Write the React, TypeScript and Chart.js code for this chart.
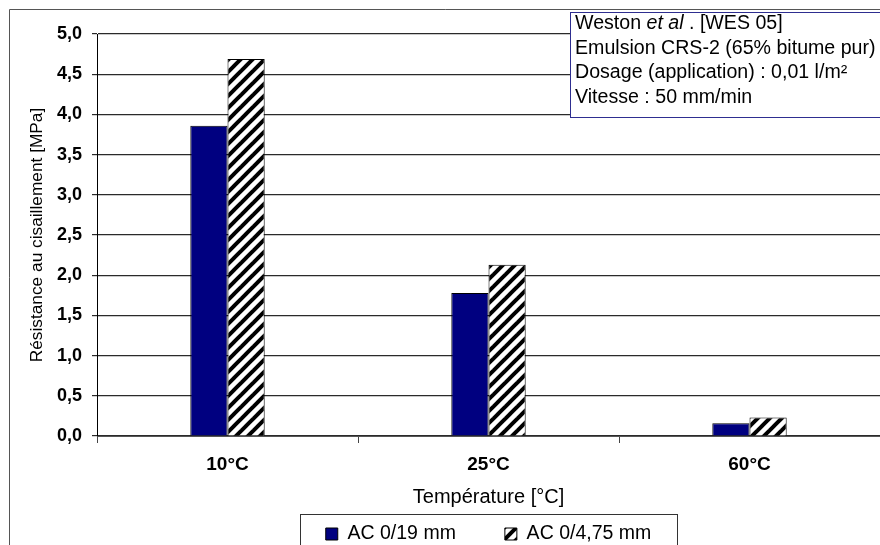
import React, { useEffect, useRef } from 'react';
import { Chart, registerables } from 'chart.js';

Chart.register(...registerables);

// ---- Data ----
const categories = ['10°C', '25°C', '60°C'];
const seriesNames = ['AC 0/19 mm', 'AC 0/4,75 mm'];
const valuesAC019 = [3.86, 1.78, 0.16];
const valuesAC0475 = [4.69, 2.13, 0.23];
const yMin = 0;
const yMax = 5;
const yStep = 0.5;
const xTitle = 'Température [°C]';
const yTitle = 'Résistance au cisaillement [MPa]';
const noteFirstLine: [string, boolean][] = [
  ['Weston ', false],
  ['et al', true],
  [' . [WES 05]', false],
];
const noteLines = [
  'Emulsion CRS-2 (65% bitume pur)',
  'Dosage (application) : 0,01 l/m²',
  'Vitesse : 50 mm/min',
];

const FONT = "'Liberation Sans', Arial, Helvetica, sans-serif";
const NAVY = '#000080';

function makeHatch(): CanvasPattern | string {
  const c = document.createElement('canvas');
  const s = 12;
  c.width = s;
  c.height = s;
  const g = c.getContext('2d');
  if (!g) return '#fff';
  g.fillStyle = '#ffffff';
  g.fillRect(0, 0, s, s);
  g.strokeStyle = '#000000';
  g.lineWidth = 4;
  for (const o of [-s, 0, s]) {
    g.beginPath();
    g.moveTo(o - 2, s + 2);
    g.lineTo(o + s + 2, -2);
    g.stroke();
  }
  const ctx2 = document.createElement('canvas').getContext('2d');
  const p = ctx2 ? ctx2.createPattern(c, 'repeat') : null;
  return p || '#fff';
}

const decorPlugin = {
  id: 'decor',
  beforeDraw(chart: any) {
    const ctx = chart.ctx;
    ctx.save();
    ctx.fillStyle = '#ffffff';
    ctx.fillRect(0, 0, chart.width, chart.height);
    ctx.strokeStyle = '#555555';
    ctx.lineWidth = 1;
    ctx.beginPath();
    ctx.moveTo(9.5, chart.height + 5);
    ctx.lineTo(9.5, 9.5);
    ctx.lineTo(chart.width + 5, 9.5);
    ctx.stroke();
    ctx.restore();
  },
  afterDraw(chart: any) {
    const ctx = chart.ctx;
    ctx.save();
    // legend frame
    const lg = chart.legend;
    if (lg && lg.legendHitBoxes && lg.legendHitBoxes.length) {
      const hb = lg.legendHitBoxes;
      const first = hb[0];
      const last = hb[hb.length - 1];
      const l = Math.round(first.left - 26) + 0.5;
      const r = Math.round(last.left + last.width + 26) + 0.5;
      const t = Math.round(first.top - 10) + 0.5;
      ctx.strokeStyle = '#333333';
      ctx.lineWidth = 1;
      ctx.strokeRect(l, t, r - l, chart.height + 20 - t);
    }
    // note box
    const bx = 570.5;
    const by = 12.5;
    ctx.fillStyle = '#ffffff';
    ctx.fillRect(bx, by, 340, 105);
    ctx.strokeStyle = '#2e2e90';
    ctx.lineWidth = 1;
    ctx.strokeRect(bx, by, 340, 105);
    ctx.fillStyle = '#000000';
    ctx.textBaseline = 'alphabetic';
    ctx.textAlign = 'left';
    const size = 19.6;
    let x = 575;
    const y0 = 29;
    const lh = 24.5;
    for (const [txt, it] of noteFirstLine) {
      ctx.font = `${it ? 'italic ' : ''}${size}px ${FONT}`;
      ctx.fillText(txt, x, y0);
      x += ctx.measureText(txt).width;
    }
    ctx.font = `${size}px ${FONT}`;
    noteLines.forEach((ln, i) => ctx.fillText(ln, 575, y0 + lh * (i + 1)));
    ctx.restore();
  },
};

export default function App() {
  const ref = useRef<HTMLCanvasElement | null>(null);

  useEffect(() => {
    if (!ref.current) return;
    const hatch = makeHatch();
    const chart = new Chart(ref.current, {
      type: 'bar',
      data: {
        labels: categories,
        datasets: [
          {
            label: seriesNames[0],
            data: valuesAC019,
            backgroundColor: NAVY,
            borderColor: '#000000',
            borderWidth: 1,
            categoryPercentage: 0.285,
            barPercentage: 1,
          },
          {
            label: seriesNames[1],
            data: valuesAC0475,
            backgroundColor: hatch as any,
            borderColor: '#000000',
            borderWidth: 1,
            categoryPercentage: 0.285,
            barPercentage: 1,
          },
        ],
      },
      options: {
        responsive: false,
        animation: false,
        layout: { padding: { top: 34, left: 20, right: -2, bottom: 0 } },
        plugins: {
          tooltip: { enabled: false },
          legend: {
            position: 'bottom',
            fullSize: false,
            maxHeight: 69.75,
            labels: {
              boxWidth: 12,
              boxHeight: 12,
              padding: 49,
              color: '#000000',
              font: { family: FONT, size: 19.5 },
            },
          },
        },
        scales: {
          x: {
            grid: {
              display: true,
              drawOnChartArea: false,
              drawTicks: true,
              tickLength: 7,
              color: '#444444',
              offset: true,
            },
            border: { color: '#555555' },
            ticks: {
              padding: 10.6,
              color: '#000000',
              font: { family: FONT, size: 19, weight: 'bold' },
            },
            title: {
              display: true,
              text: xTitle,
              color: '#000000',
              font: { family: FONT, size: 20 },
              padding: { top: 0, bottom: -34.25 },
            },
            afterFit: (s: any) => {
              s.height = 39.25;
            },
          },
          y: {
            min: yMin,
            max: yMax,
            grid: { color: '#2a2a2a', tickLength: 5, lineWidth: 1.2 },
            border: { color: '#000000' },
            ticks: {
              stepSize: yStep,
              padding: 10,
              color: '#000000',
              font: { family: FONT, size: 18, weight: 'bold' },
              callback: (v: any) => Number(v).toFixed(1).replace('.', ','),
            },
            title: {
              display: true,
              text: yTitle,
              color: '#000000',
              font: { family: FONT, size: 17.3 },
              padding: { top: 7, bottom: 0 },
            },
            afterFit: (s: any) => {
              s.width = 77;
            },
          },
        },
      } as any,
      plugins: [decorPlugin],
    });
    return () => chart.destroy();
  }, []);

  return (
    <div style={{ position: 'absolute', left: 0, top: 0, width: 880, height: 545, overflow: 'hidden' }}>
      <canvas ref={ref} width={880} height={545} style={{ display: 'block' }} />
    </div>
  );
}
